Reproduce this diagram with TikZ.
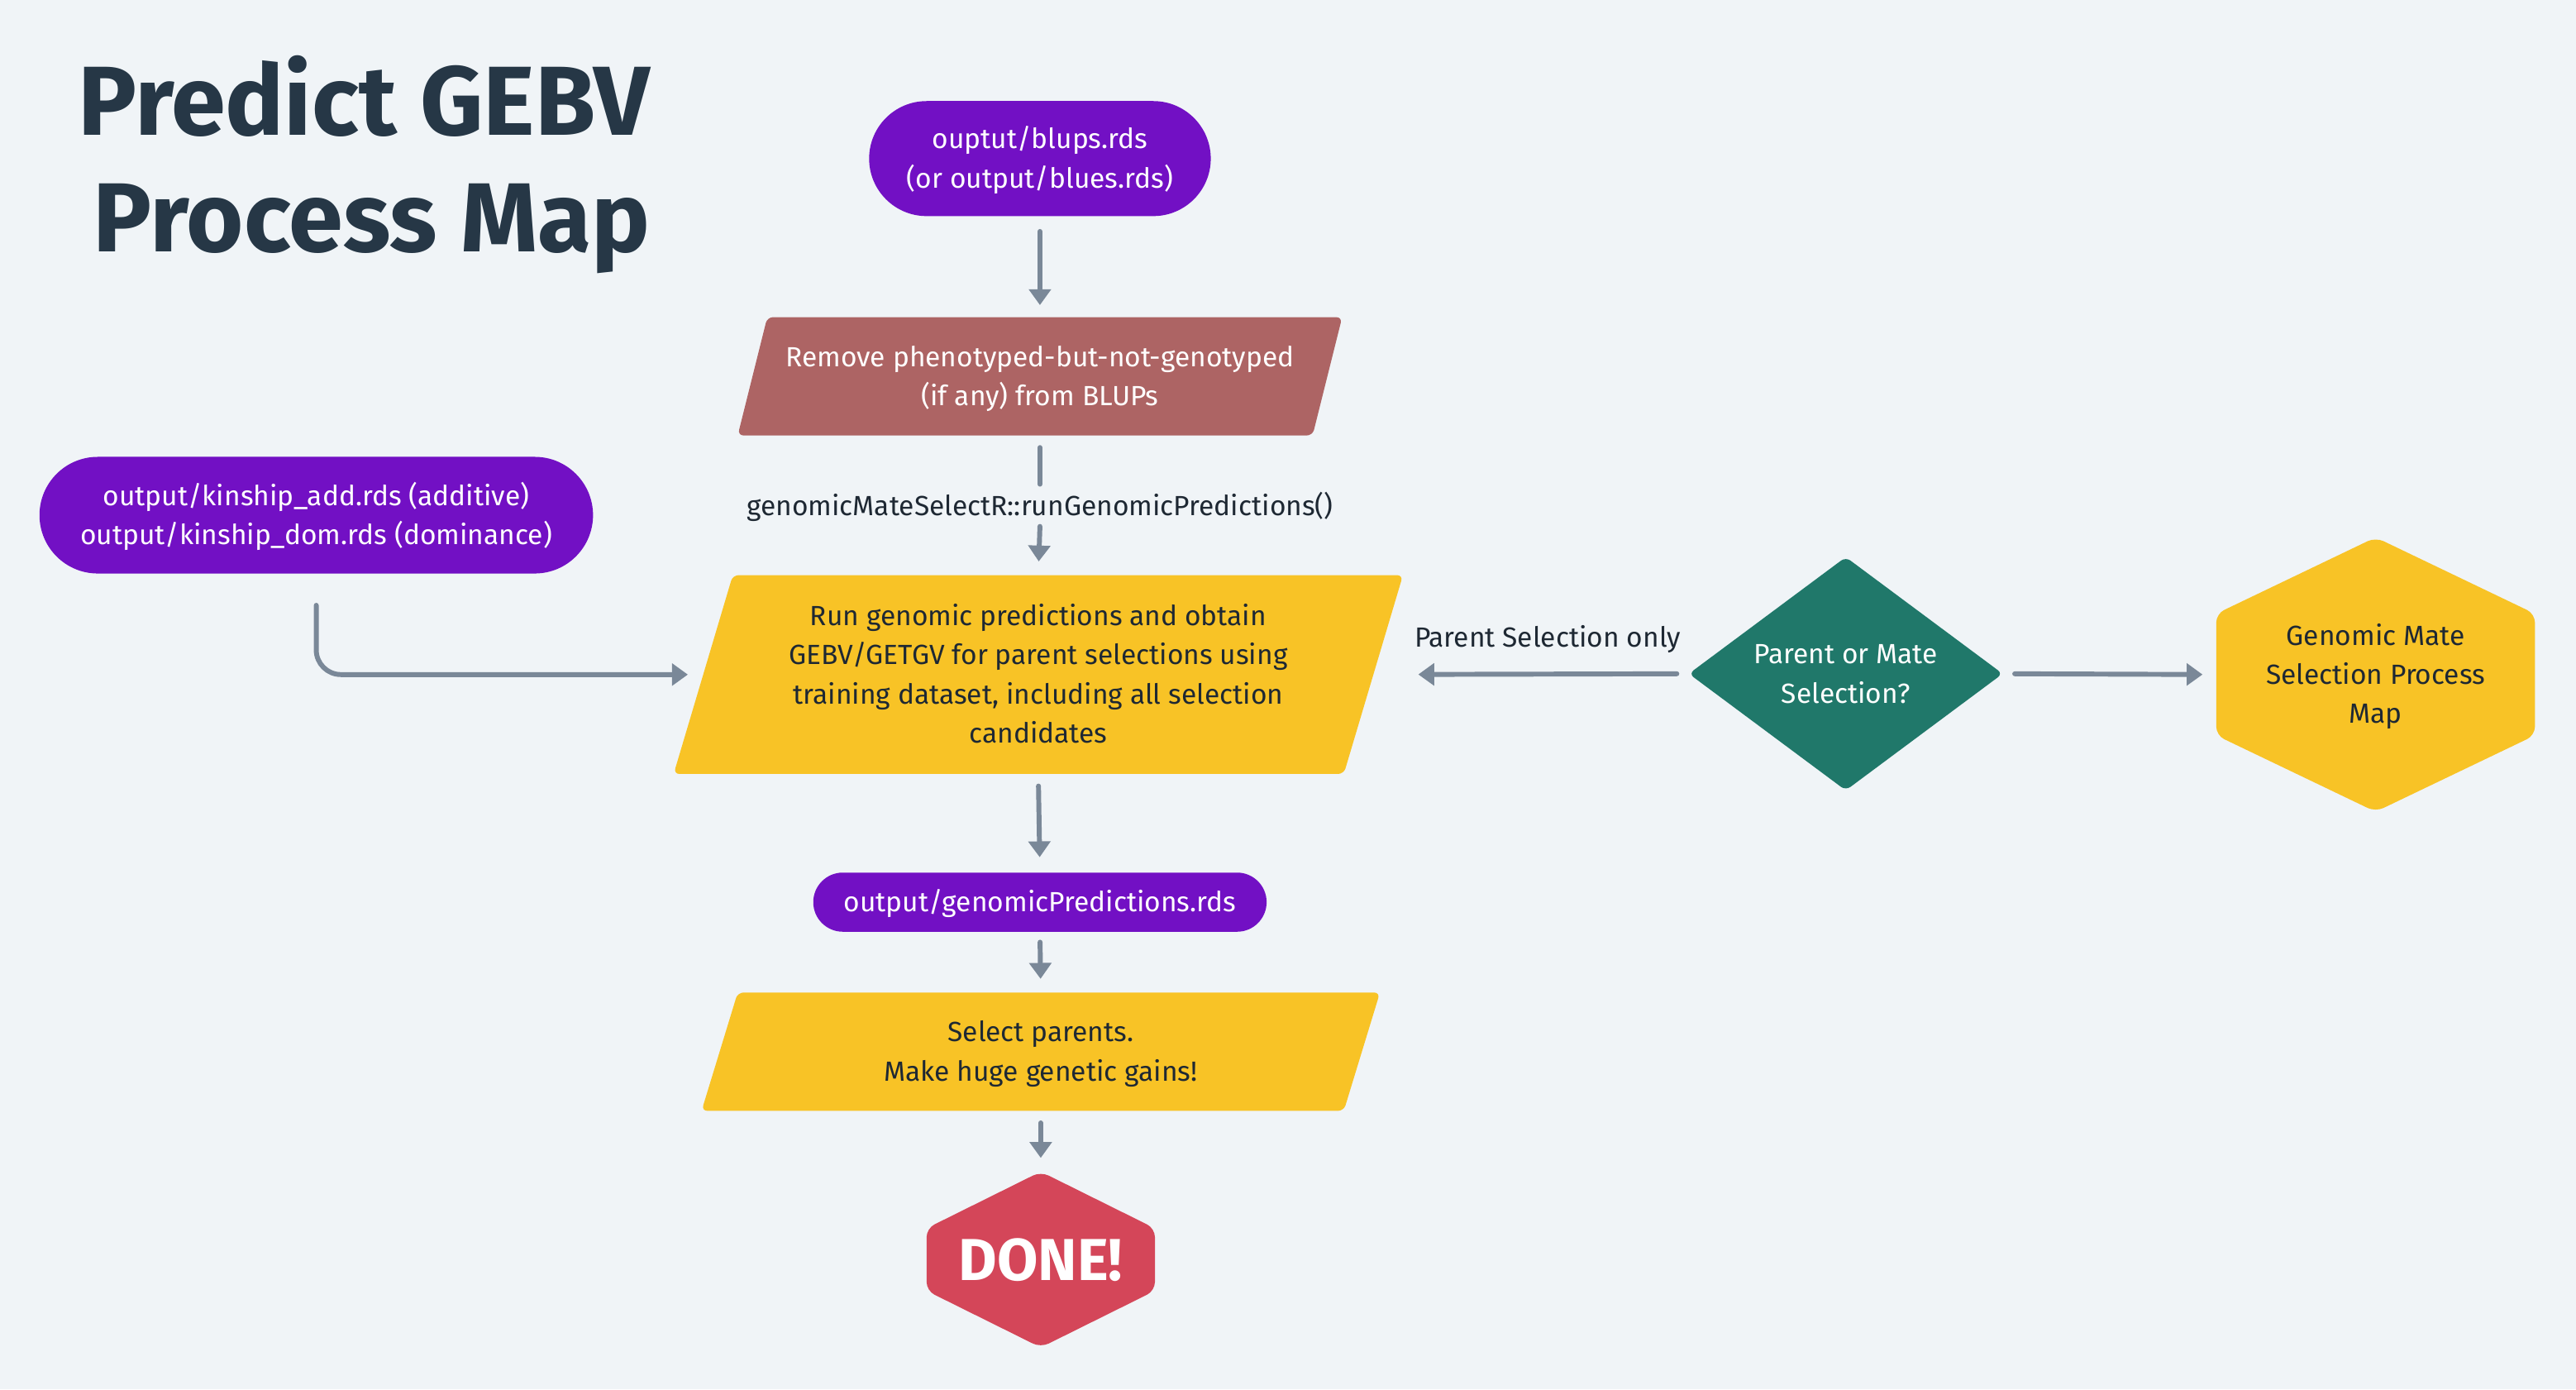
\documentclass[tikz,border=0pt]{standalone}
\usepackage{fontspec}
\setmainfont{Fira Sans}
\usetikzlibrary{arrows.meta,calc}
\definecolor{bgc}{HTML}{F0F4F7}
\definecolor{purp}{HTML}{7210C4}
\definecolor{rose}{HTML}{AD6464}
\definecolor{yel}{HTML}{F8C326}
\definecolor{tealc}{HTML}{20786A}
\definecolor{redc}{HTML}{D44659}
\definecolor{arrc}{HTML}{7A8898}
\definecolor{darkt}{HTML}{263746}
\definecolor{bodyt}{HTML}{1E2833}
\newcommand\bodyfont{\fontsize{9.6}{13.5}\selectfont}
\newcommand\sa{\rule[-3.4pt]{0pt}{13.5pt}}
\newcommand\ta{\rule[-10.4pt]{0pt}{40.4pt}}
\tikzset{
  box/.style={inner sep=0pt, align=center, font=\bodyfont},
  stadium/.style={box, fill=purp, text=white, rounded corners=#1},
  para/.style n args={3}{box, text=#2, path picture={
    \fill[#1, rounded corners=2pt]
      ($(path picture bounding box.north west)+(#3,0)$) --
      (path picture bounding box.north east) --
      ($(path picture bounding box.south east)+(-#3,0)$) --
      (path picture bounding box.south west) -- cycle;}},
  hexv/.style n args={3}{box, text=#2, path picture={
    \fill[#1, rounded corners=3pt]
      (path picture bounding box.north) --
      ($(path picture bounding box.east)+(0,-#3)$) --
      ($(path picture bounding box.east)+(0,#3)$) --
      (path picture bounding box.south) --
      ($(path picture bounding box.west)+(0,#3)$) --
      ($(path picture bounding box.west)+(0,-#3)$) -- cycle;}},
  diam/.style n args={2}{box, text=#2, path picture={
    \fill[#1, rounded corners=2pt]
      (path picture bounding box.north) --
      (path picture bounding box.east) --
      (path picture bounding box.south) --
      (path picture bounding box.west) -- cycle;}},
  arr/.style={draw=arrc, line width=1.7pt, line cap=round,
    -{Triangle[width=7.5pt,length=5.5pt]}},
  plainline/.style={draw=arrc, line width=1.7pt, line cap=round}
}
\begin{document}
\begin{tikzpicture}[x=0.02cm, y=-0.02cm]
\fill[bgc] (0,0) rectangle (1568,845.4);
\useasboundingbox (0,0) rectangle (1568,845.4);

\node[text=darkt, align=right, anchor=east, inner sep=0pt, font=\fontsize{34}{40.4}\selectfont\bfseries] (title) at (396,100.3) {\ta Predict GEBV\\Process Map\ta};

\node[stadium=0.7cm, minimum width=4.16cm, minimum height=1.4cm] (blups) at (633,96.5) {\sa ouptut/blups.rds\\(or output/blues.rds)\sa};
\node[para={rose}{white}{18}, minimum width=7.36cm, minimum height=1.44cm] (remove) at (633,229) {\sa Remove phenotyped-but-not-genotyped\\(if any) from BLUPs\sa};
\node[box, text=bodyt, minimum height=0.48cm] (lbl) at (633,308) {\sa genomicMateSelectR::runGenomicPredictions()};
\node[para={yel}{bodyt}{36}, minimum width=8.88cm, minimum height=2.42cm] (run) at (632,410.5) {\sa Run genomic predictions and obtain\\GEBV/GETGV for parent selections using\\training dataset, including all selection\\candidates\sa};
\node[stadium=0.36cm, minimum width=5.52cm, minimum height=0.72cm] (preds) at (633,549) {\sa output/genomicPredictions.rds};
\node[para={yel}{bodyt}{22}, minimum width=8.26cm, minimum height=1.44cm] (select) at (633.5,640) {\sa Select parents.\\Make huge genetic gains!\sa};
\node[hexv={redc}{white}{19}, minimum width=2.78cm, minimum height=2.14cm, font=\fontsize{20.5}{24}\selectfont\bfseries] (done) at (633.5,766.5) {DONE!};
\node[stadium=0.71cm, minimum width=6.74cm, minimum height=1.42cm] (kin) at (192.5,313.5) {\sa output/kinship\_add.rds (additive)\\output/kinship\_dom.rds (dominance)\sa};
\node[diam={tealc}{white}, minimum width=3.82cm, minimum height=2.84cm] (dia) at (1123.5,410) {\sa Parent or Mate\\Selection?\sa};
\node[hexv={yel}{bodyt}{37}, minimum width=3.88cm, minimum height=3.34cm] (gm) at (1446,410.5) {\sa Genomic Mate\\Selection Process\\Map\sa};
\node[box, text=bodyt] (psl) at (942,388) {\sa Parent Selection only};

\coordinate (runL) at ($(run.west)+(18,0)$);
\coordinate (runR) at ($(run.east)+(-18,0)$);

\draw[arr, shorten <=9*0.02cm, shorten >=7*0.02cm] (blups.south) -- (remove.north);
\draw[plainline, shorten <=7*0.02cm, shorten >=1*0.02cm] (remove.south) -- (lbl.north);
\draw[arr, shorten >=8*0.02cm] (lbl.south) -- (run.north);
\draw[arr, shorten <=7*0.02cm, shorten >=9*0.02cm] (run.south) -- (preds.north);
\draw[arr, shorten <=6*0.02cm, shorten >=8*0.02cm] (preds.south) -- (select.north);
\draw[arr, shorten <=7*0.02cm, shorten >=8*0.02cm] (select.south) -- (done.north);
\draw[arr, rounded corners=0.3cm, shorten <=19*0.02cm, shorten >=9*0.02cm] (kin.south) |- (runL);
\draw[arr, shorten <=7*0.02cm, shorten >=27*0.02cm] (dia.west) -- (runR);
\draw[arr, shorten <=7*0.02cm, shorten >=8*0.02cm] (dia.east) -- (gm.west);
\end{tikzpicture}
\end{document}
